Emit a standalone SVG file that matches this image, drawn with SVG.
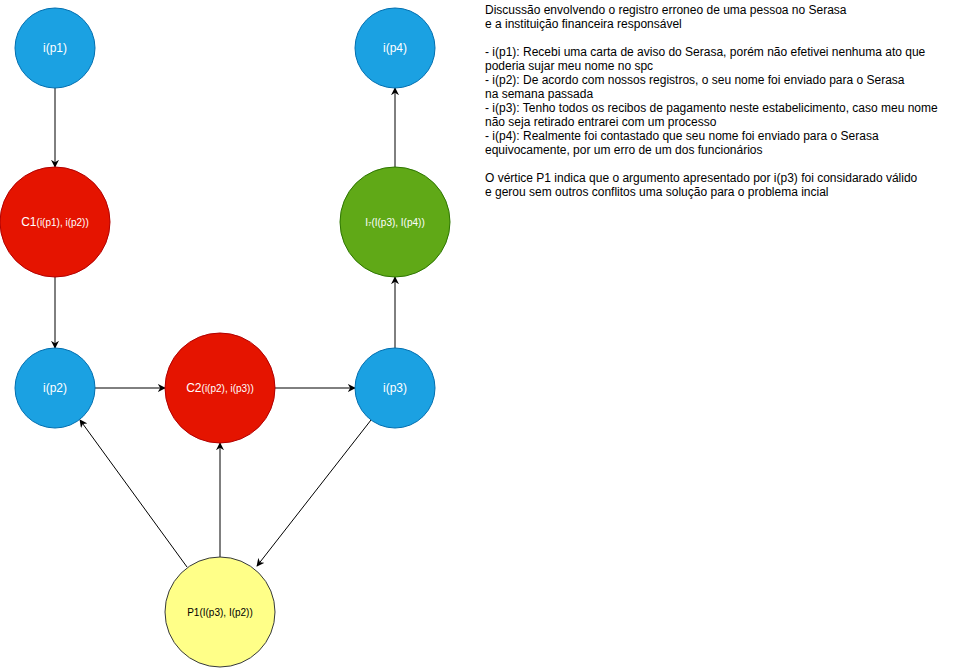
<svg xmlns="http://www.w3.org/2000/svg" width="954" height="669" viewBox="0 0 954 669">
<style>
.blue{fill:#1ba1e2;stroke:#006eaf;stroke-width:1}
.red{fill:#e51400;stroke:#b20000;stroke-width:1}
.green{fill:#60a917;stroke:#2d7600;stroke-width:1}
.yellow{fill:#ffff88;stroke:#36393d;stroke-width:1}
.lbl{font-family:"Liberation Sans",Arial,sans-serif;font-size:12px;fill:#ffffff;text-anchor:middle}
.sm{font-size:10px}
.dark{fill:#000000}
.edge{stroke:#000000;stroke-width:1;fill:none;marker-end:url(#arr)}
.desc{font-family:"Liberation Sans",Arial,sans-serif;font-size:12px;fill:#000000}
</style>
<defs>
<marker id="arr" viewBox="0 0 10 10" refX="9" refY="5" markerWidth="8" markerHeight="8" markerUnits="userSpaceOnUse" orient="auto">
<path d="M0,0 L10,5 L0,10 L3,5 Z" fill="#000000"/>
</marker>
</defs>
<g id="connectors">
<line class="edge" x1="55" y1="88" x2="55" y2="167"/>
<line class="edge" x1="55" y1="277" x2="55" y2="348"/>
<line class="edge" x1="95" y1="388" x2="165" y2="388"/>
<line class="edge" x1="275" y1="388" x2="355" y2="388"/>
<line class="edge" x1="395" y1="348" x2="395" y2="277"/>
<line class="edge" x1="395" y1="167" x2="395" y2="88"/>
<line class="edge" x1="187" y1="567" x2="80" y2="420"/>
<line class="edge" x1="220" y1="557" x2="220" y2="443"/>
<line class="edge" x1="371" y1="420" x2="257" y2="566"/>
</g>
<g id="ip1"><circle class="blue" cx="55" cy="48" r="40"/><text class="lbl" x="55" y="52">i(p1)</text></g>
<g id="c1"><circle class="red" cx="55" cy="222" r="55"/><text class="lbl" x="55" y="226">C1<tspan class="sm">(i(p1), i(p2))</tspan></text></g>
<g id="ip2"><circle class="blue" cx="55" cy="388" r="40"/><text class="lbl" x="55" y="392">i(p2)</text></g>
<g id="c2"><circle class="red" cx="220" cy="388" r="55"/><text class="lbl" x="220" y="392">C2<tspan class="sm">(i(p2), i(p3))</tspan></text></g>
<g id="ip3"><circle class="blue" cx="395" cy="388" r="40"/><text class="lbl" x="395" y="392">i(p3)</text></g>
<g id="i7"><circle class="green" cx="395" cy="222" r="55"/><text class="lbl sm" x="395" y="226">I<tspan font-size="6px">7</tspan>(I(p3), I(p4))</text></g>
<g id="ip4"><circle class="blue" cx="395" cy="48" r="40"/><text class="lbl" x="395" y="52">i(p4)</text></g>
<g id="p1"><circle class="yellow" cx="220" cy="612" r="55"/><text class="lbl sm dark" x="220" y="616">P1(I(p3), I(p2))</text></g>
<g id="description">
<text class="desc" x="485" y="14">Discussão envolvendo o registro erroneo de uma pessoa no Serasa</text>
<text class="desc" x="485" y="28">e a instituição financeira responsável</text>
<text class="desc" x="485" y="56">- i(p1): Recebi uma carta de aviso do Serasa, porém não efetivei nenhuma ato que</text>
<text class="desc" x="485" y="70">poderia sujar meu nome no spc</text>
<text class="desc" x="485" y="84">- i(p2): De acordo com nossos registros, o seu nome foi enviado para o Serasa</text>
<text class="desc" x="485" y="98">na semana passada</text>
<text class="desc" x="485" y="112">- i(p3): Tenho todos os recibos de pagamento neste estabelicimento, caso meu nome</text>
<text class="desc" x="485" y="126">não seja retirado entrarei com um processo</text>
<text class="desc" x="485" y="140">- i(p4): Realmente foi contastado que seu nome foi enviado para o Serasa</text>
<text class="desc" x="485" y="154">equivocamente, por um erro de um dos funcionários</text>
<text class="desc" x="485" y="182">O vértice P1 indica que o argumento apresentado por i(p3) foi considarado válido</text>
<text class="desc" x="485" y="196">e gerou sem outros conflitos uma solução para o problema incial</text>
</g>
</svg>
